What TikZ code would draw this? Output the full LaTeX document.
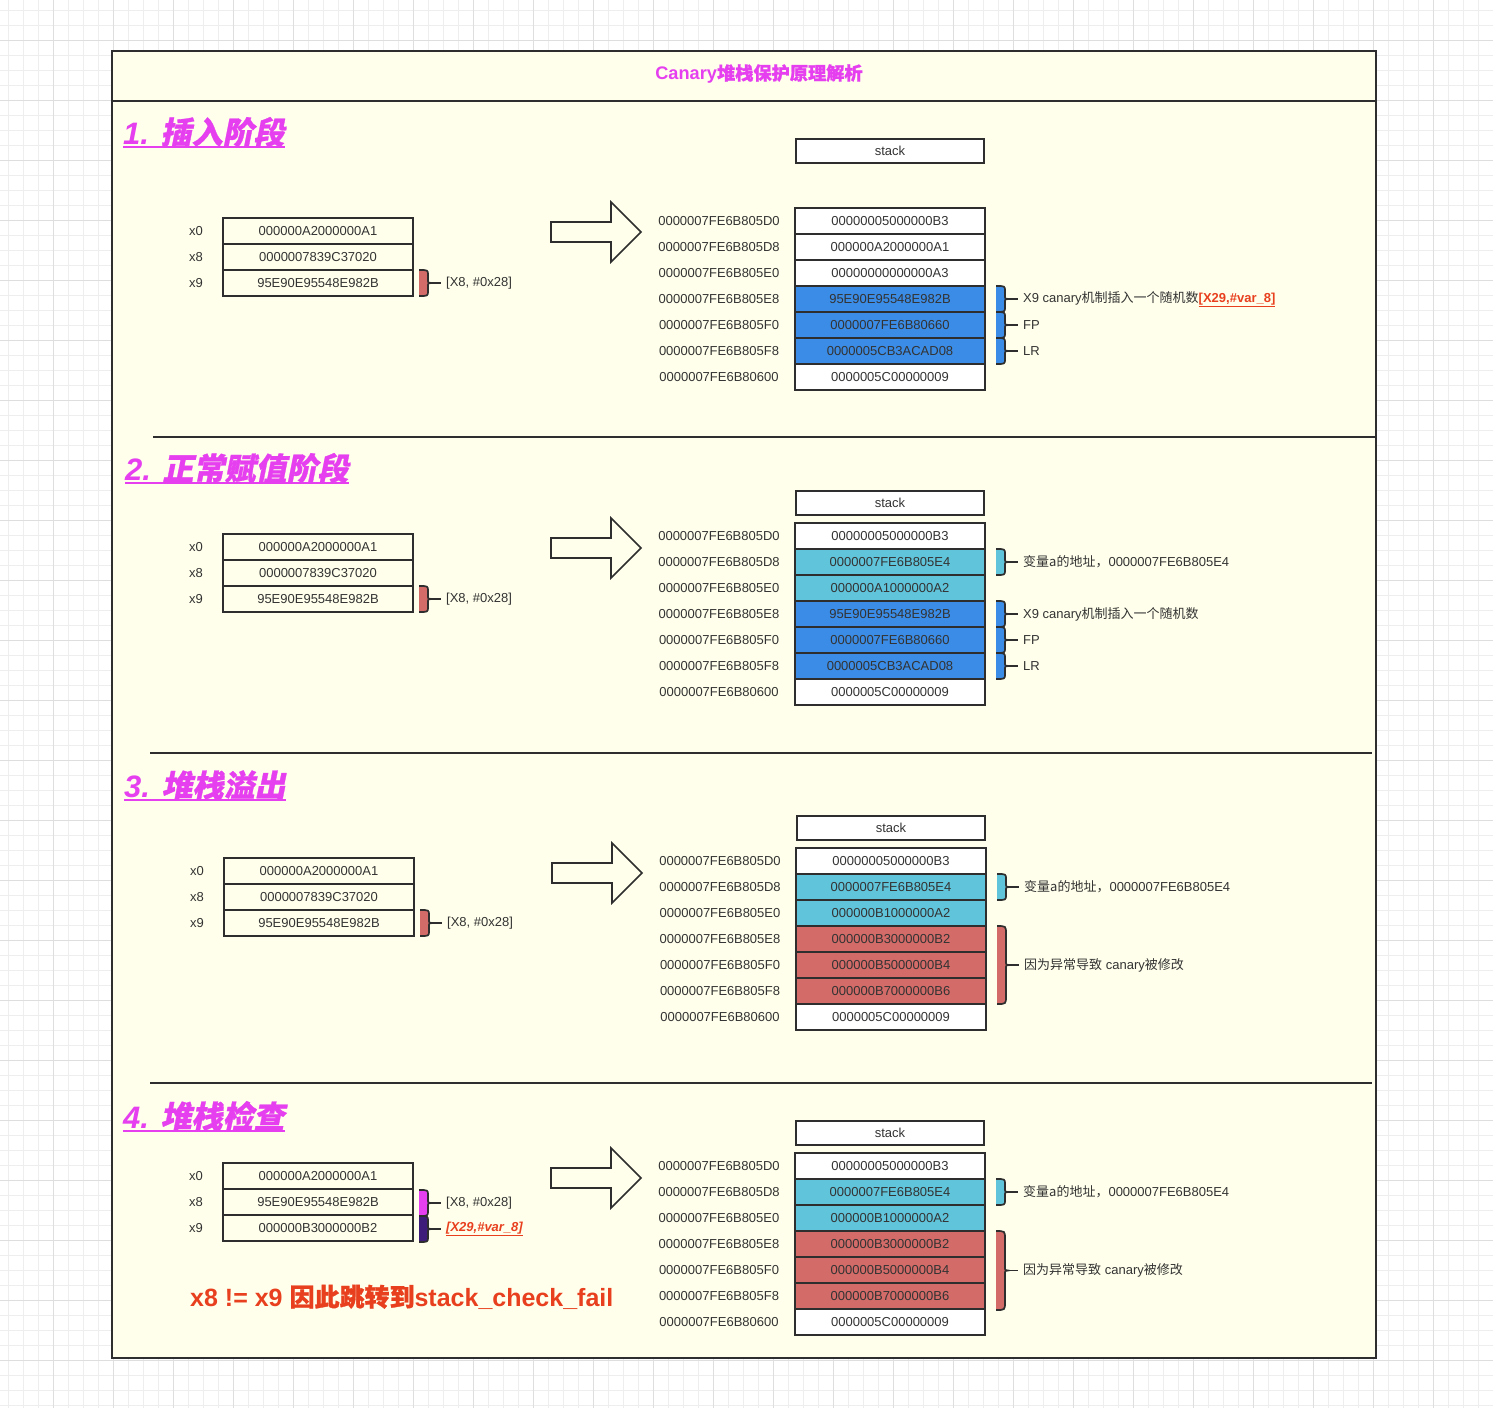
\documentclass[tikz,border=0pt]{standalone}
\usepackage{fontspec}
\setmainfont{Liberation Sans}
\newfontfamily\cjk{Noto Sans CJK SC}
\newfontfamily\cjkb{Noto Sans CJK SC}[FakeBold=1.1]
\newfontfamily\cjkbi{Noto Sans CJK SC}[FakeBold=0.9,FakeSlant=0.2]
\definecolor{bgc}{HTML}{FFFFEB}
\definecolor{linec}{HTML}{2E2E2E}
\definecolor{textc}{HTML}{333333}
\definecolor{bluec}{HTML}{3B8CE6}
\definecolor{cyanc}{HTML}{60C4DB}
\definecolor{redc}{HTML}{D36B68}
\definecolor{magc}{HTML}{E53FF0}
\definecolor{purc}{HTML}{3D1C7A}
\definecolor{warnc}{HTML}{E8401F}
\definecolor{gridthin}{HTML}{EEEEEE}
\definecolor{gridthick}{HTML}{DEDEDE}
\newcommand\fs{\fontsize{13}{15}\selectfont}
\tikzset{
  cell/.style={draw=linec, line width=1.6pt, minimum width=190, minimum height=26,
    inner sep=0pt, font=\fs, text=textc},
  lbl/.style={inner sep=0pt, font=\fs, text=textc},
  blab/.style={inner sep=0pt, font=\fs, text=textc, anchor=west},
  bline/.style={draw=linec, line width=1.7pt},
  head/.style={inner sep=0pt, text=magc, font=\fontsize{31}{36}\selectfont\bfseries\itshape, anchor=base west},
  hul/.style={draw=magc, line width=2.4pt},
  sep/.style={draw=linec, line width=1.4pt},
  hollow/.style={draw=linec, line width=1.6pt, line join=miter},
}
% brace: #1 xl, #2 y0, #3 y1, #4 colour, #5 label name, #6 label text
\newcommand\mybrace[6]{%
  \pgfmathsetmacro\bym{(#2+#3)/2}%
  \pgfmathsetmacro\bxm{#1+9}%
  \pgfmathsetmacro\bxc{#1+12}%
  \pgfmathsetmacro\br{min(8,(#3-#2)/5)}%
  \fill[#4] (#1,#2) .. controls (\bxm,#2) .. (\bxm,#2+\br) -- (\bxm,\bym-4) .. controls (\bxm,\bym) .. (\bxc,\bym)
     .. controls (\bxm,\bym) .. (\bxm,\bym+4) -- (\bxm,#3-\br) .. controls (\bxm,#3) .. (#1,#3) -- cycle;
  \draw[bline] (#1,#2) .. controls (\bxm,#2) .. (\bxm,#2+\br) -- (\bxm,\bym-4) .. controls (\bxm,\bym) .. (\bxc,\bym)
     .. controls (\bxm,\bym) .. (\bxm,\bym+4) -- (\bxm,#3-\br) .. controls (\bxm,#3) .. (#1,#3);
  \node[blab] (#5) at (#1+27,\bym) {#6};
  \draw[bline] (\bxc,\bym) -- ([xshift=-5pt]#5.west);
}
% registers: #1 tag, #2 ytop, #3 xc, #4-#6 values
\newcommand\regs[6]{%
  \foreach \v/\l [count=\k] in {#4/x0,#5/x8,#6/x9}{
    \node[cell] (#1r\k) at ({#3},{#2+13+26*(\k-1)}) {\v};
    \node[lbl] (#1rl\k) at ({#3-122},{#2+13+26*(\k-1)}) {\l};
  }}
% stack: #1 tag, #2 ytop, #3 xc, #4 list colour/value
\newcommand\stk[4]{%
  \foreach \c/\v [count=\k] in {#4}{
    \node[cell, fill=\c] (#1s\k) at ({#3},{#2+13+26*(\k-1)}) {\v};
  }
  \foreach \a [count=\k] in {805D0,805D8,805E0,805E8,805F0,805F8,80600}{
    \node[lbl] (#1a\k) at ({#3-171},{#2+13+26*(\k-1)}) {0000007FE6B\a};
  }}
% hollow arrow: #1 x start, #2 centre y
\newcommand\hollowarrow[2]{%
  \draw[hollow] (#1,#2-10) -- (#1+60,#2-10) -- (#1+60,#2-30) -- (#1+90,#2) -- (#1+60,#2+30)
     -- (#1+60,#2+10) -- (#1,#2+10) -- cycle;}
\begin{document}
\begin{tikzpicture}[x=1pt,y=-1pt]
\useasboundingbox (0,0) rectangle (1493,1408);
\fill[white] (0,0) rectangle (1493,1408);
% grid
\foreach \i in {0,...,99}{ \draw[gridthin, line width=0.8pt] ({8+15*\i},0) -- ({8+15*\i},1408); }
\foreach \i in {0,...,93}{ \draw[gridthin, line width=0.8pt] (0,{10+15*\i}) -- (1493,{10+15*\i}); }
\foreach \i in {0,...,24}{ \draw[gridthick, line width=0.9pt] ({53+60*\i},0) -- ({53+60*\i},1408); }
\foreach \i in {0,...,23}{ \draw[gridthick, line width=0.9pt] (0,{40+60*\i}) -- (1493,{40+60*\i}); }
% frame
\draw[fill=bgc, draw=linec, line width=2.2pt] (112,51) rectangle (1376,1358);
\draw[draw=linec, line width=2pt] (112,101) -- (1376,101);
\node[inner sep=0pt, text=magc, font=\fontsize{18.2}{21}\selectfont\bfseries] (title) at (759,74) {Canary{\cjkb 堆栈保护原理解析}};
% separators
\draw[sep] (153,437) -- (1376,437);
\draw[sep] (150,753) -- (1372,753);
\draw[sep] (150,1083) -- (1372,1083);
% headings
\node[head] (h1) at (123,144) {1. {\cjkbi 插入阶段}};
\draw[hul] ([yshift=-3pt]h1.base west) -- ([yshift=-3pt]h1.base east);
\node[head] (h2) at (125,480) {2. {\cjkbi 正常赋值阶段}};
\draw[hul] ([yshift=-3pt]h2.base west) -- ([yshift=-3pt]h2.base east);
\node[head] (h3) at (124,797) {3. {\cjkbi 堆栈溢出}};
\draw[hul] ([yshift=-3pt]h3.base west) -- ([yshift=-3pt]h3.base east);
\node[head] (h4) at (123,1128) {4. {\cjkbi 堆栈检查}};
\draw[hul] ([yshift=-3pt]h4.base west) -- ([yshift=-3pt]h4.base east);

% ===== Section 1 =====
\regs{a}{218}{318}{000000A2000000A1}{0000007839C37020}{95E90E95548E982B}
\mybrace{419}{270}{296}{redc}{al1}{[X8, \#0x28]}
\hollowarrow{551}{232}
\node[cell, fill=white, minimum width=188, minimum height=24] (abox) at (890,151) {stack};
\stk{a}{208}{890}{white/00000005000000B3,white/000000A2000000A1,white/00000000000000A3,bluec/95E90E95548E982B,bluec/0000007FE6B80660,bluec/0000005CB3ACAD08,white/0000005C00000009}
\mybrace{996}{286}{312}{bluec}{ab1}{X9 canary{\cjk 机制插入一个随机数}{\bfseries\color{warnc}\underline{[X29,\#var\_8]}}}
\mybrace{996}{312}{338}{bluec}{ab2}{FP}
\mybrace{996}{338}{364}{bluec}{ab3}{LR}

% ===== Section 2 =====
\regs{b}{534}{318}{000000A2000000A1}{0000007839C37020}{95E90E95548E982B}
\mybrace{419}{586}{612}{redc}{bl1}{[X8, \#0x28]}
\hollowarrow{551}{548}
\node[cell, fill=white, minimum width=188, minimum height=24] (bbox) at (890,503) {stack};
\stk{b}{523}{890}{white/00000005000000B3,cyanc/0000007FE6B805E4,cyanc/000000A1000000A2,bluec/95E90E95548E982B,bluec/0000007FE6B80660,bluec/0000005CB3ACAD08,white/0000005C00000009}
\mybrace{996}{549}{575}{cyanc}{bb0}{{\cjk 变量a的地址，}0000007FE6B805E4}
\mybrace{996}{601}{627}{bluec}{bb1}{X9 canary{\cjk 机制插入一个随机数}}
\mybrace{996}{627}{653}{bluec}{bb2}{FP}
\mybrace{996}{653}{679}{bluec}{bb3}{LR}

% ===== Section 3 =====
\regs{c}{858}{319}{000000A2000000A1}{0000007839C37020}{95E90E95548E982B}
\mybrace{420}{910}{936}{redc}{cl1}{[X8, \#0x28]}
\hollowarrow{552}{873}
\node[cell, fill=white, minimum width=188, minimum height=24] (cbox) at (891,828) {stack};
\stk{c}{848}{891}{white/00000005000000B3,cyanc/0000007FE6B805E4,cyanc/000000B1000000A2,redc/000000B3000000B2,redc/000000B5000000B4,redc/000000B7000000B6,white/0000005C00000009}
\mybrace{997}{874}{900}{cyanc}{cb0}{{\cjk 变量a的地址，}0000007FE6B805E4}
\mybrace{997}{926}{1004}{redc}{cb1}{{\cjk 因为异常导致} canary{\cjk 被修改}}

% ===== Section 4 =====
\regs{d}{1163}{318}{000000A2000000A1}{95E90E95548E982B}{000000B3000000B2}
\mybrace{419}{1190}{1216}{magc}{dl1}{[X8, \#0x28]}
\mybrace{419}{1216}{1242}{purc}{dl2}{{\bfseries\itshape\color{warnc}\underline{[X29,\#var\_8]}}}
\hollowarrow{551}{1178}
\node[cell, fill=white, minimum width=188, minimum height=24] (dbox) at (890,1133) {stack};
\stk{d}{1153}{890}{white/00000005000000B3,cyanc/0000007FE6B805E4,cyanc/000000B1000000A2,redc/000000B3000000B2,redc/000000B5000000B4,redc/000000B7000000B6,white/0000005C00000009}
\mybrace{996}{1179}{1205}{cyanc}{db0}{{\cjk 变量a的地址，}0000007FE6B805E4}
\mybrace{996}{1231}{1310}{redc}{db1}{{\cjk 因为异常导致} canary{\cjk 被修改}}
\node[anchor=west, inner sep=0pt, text=warnc, font=\fontsize{25}{29}\selectfont\bfseries] (warn) at (190,1297) {x8 != x9 {\cjkb 因此跳转到}stack\_check\_fail};
\end{tikzpicture}
\end{document}
